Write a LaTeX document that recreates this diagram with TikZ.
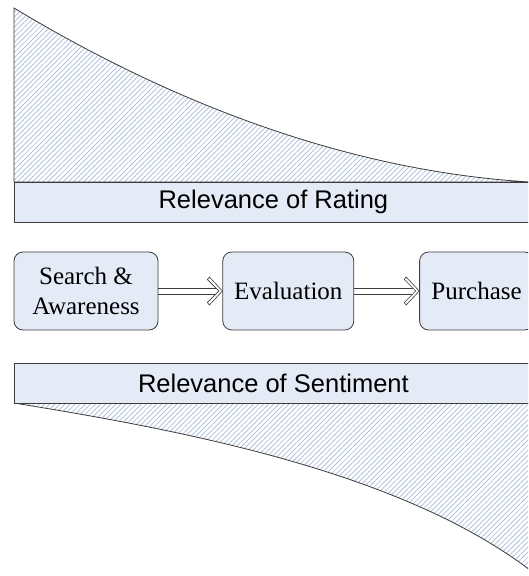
\documentclass[tikz,border=0pt]{standalone}
\usepackage{fontspec}
\setmainfont{Liberation Serif}
\setsansfont{Liberation Sans}
\usetikzlibrary{positioning,patterns.meta}
\definecolor{boxfill}{RGB}{228,235,247}
\definecolor{hatchblue}{RGB}{178,195,222}
\definecolor{edgegray}{RGB}{60,60,60}

\begin{document}
\begin{tikzpicture}[x=1pt,y=-1pt,line width=0.8pt,
  bar node/.style={rectangle,draw=edgegray,fill=boxfill,font=\sffamily\fontsize{25.5}{30}\selectfont,minimum width=518pt,minimum height=40pt,inner sep=0pt,anchor=north west},
  stage node/.style={rectangle,rounded corners=9pt,draw=edgegray,fill=boxfill,font=\fontsize{25}{30}\selectfont,align=center,minimum height=78pt,inner sep=0pt},
  hatch/.style={draw=edgegray,pattern={Lines[angle=45,distance=3.6pt,line width=0.85pt]},pattern color=hatchblue},
  flow line/.style={draw=edgegray,line width=0.7pt},
  chevron/.pic={\draw[edgegray,fill=white,line width=0.6pt] (-13,-14) -- (0,0) -- (-13,14) -- (-15,11.5) -- (-3.5,0) -- (-15,-11.5) -- cycle;}]

  \useasboundingbox (0,0) rectangle (528,576);
  \clip (0,0) rectangle (528,576);

  % hatched areas
  \draw[hatch] (14,182) -- (14,8) .. controls (150,90) and (330,170) .. (530,182) -- cycle;
  \draw[hatch] (14,403) .. controls (180,430) and (410,472) .. (540,578) -- (540,403) -- cycle;

  \node[bar node] (rating) at (14,182) {Relevance of Rating};
  \node[bar node] (sentiment) at (14,363) {Relevance of Sentiment};

  \node[stage node,minimum width=144pt] (search) at (86,291) {Search \&\\Awareness};
  \node[stage node,minimum width=131pt] (evaluation) [right=64pt of search] {Evaluation};
  \node[stage node,minimum width=114pt] (purchase) [right=65pt of evaluation] {Purchase};

  % double arrows
  \draw[flow line] ([yshift=3pt]search.east) -- ([xshift=-6.5pt,yshift=3pt]evaluation.west);
  \draw[flow line] ([yshift=-3pt]search.east) -- ([xshift=-6.5pt,yshift=-3pt]evaluation.west);
  \pic at (evaluation.west) {chevron};
  \draw[flow line] ([yshift=3pt]evaluation.east) -- ([xshift=-6.5pt,yshift=3pt]purchase.west);
  \draw[flow line] ([yshift=-3pt]evaluation.east) -- ([xshift=-6.5pt,yshift=-3pt]purchase.west);
  \pic at (purchase.west) {chevron};
\end{tikzpicture}
\end{document}
